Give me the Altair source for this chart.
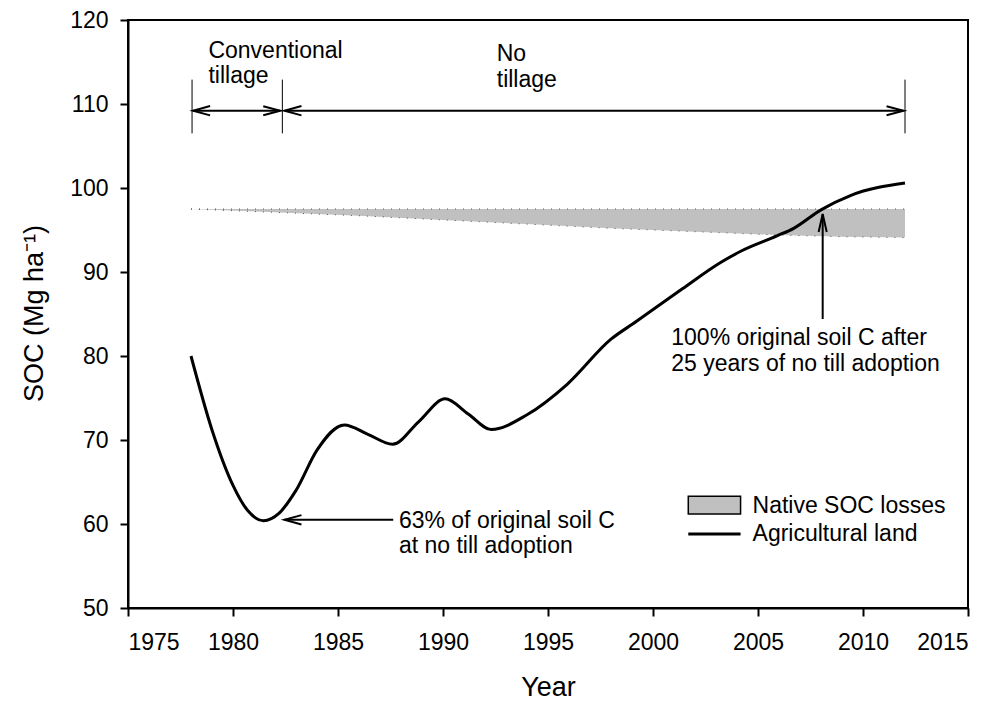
import altair as alt
import pandas as pd

FONT = "Liberation Sans"

# ---- Agricultural land SOC curve ----
years = [1978, 1979, 1980, 1980.7, 1981.45, 1982.2, 1983, 1984, 1985.3, 1986.45,
         1987.6, 1988.85, 1990.1, 1991.2, 1992.3, 1994, 1995.9, 1998, 1999.2,
         2001.4, 2003.2, 2004.2, 2005.9, 2006.7, 2008, 2009.4, 2012]
soc = [80.0, 71.2, 64.6, 61.6, 60.4, 61.3, 64.0, 68.8, 71.8, 70.65,
       69.5, 72.2, 74.9, 73.1, 71.25, 73.0, 76.6, 82.0, 84.1,
       88.0, 91.1, 92.5, 94.3, 95.2, 97.4, 99.1, 100.6]

# ---- Native SOC losses band ----
band_years = [1978, 1982, 1986, 1990, 1994, 1998, 2002, 2006, 2009, 2012]
band_upper = [97.5, 97.5, 97.5, 97.5, 97.5, 97.5, 97.5, 97.5, 97.5, 97.5]
band_lower = [97.5, 97.1, 96.7, 96.2, 95.7, 95.2, 94.8, 94.4, 94.2, 94.1]

# ---- Period markers (top) ----
period_bar_x = [1978.05, 1982.35, 2012.0]
period_bar_low = [106.5, 106.5, 106.5]
period_bar_high = [112.9, 112.9, 112.9]
period_arrow_start = [1978.1, 1982.45]
period_arrow_end = [1982.25, 2011.93]
period_arrow_y = [109.2, 109.2]

period_text = ["Conventional", "tillage", "No", "tillage"]
period_text_x = [1978.83, 1978.83, 1992.56, 1992.56]
period_text_y = [115.45, 112.5, 115.1, 112.05]

# ---- Annotations ----
ann_text = ["63% of original soil C", "at no till adoption",
            "100% original soil C after", "25 years of no till adoption"]
ann_text_x = [1987.9, 1987.9, 2000.87, 2000.87]
ann_text_y = [59.5, 56.5, 81.27, 78.18]

ann63_x = [1987.63]
ann63_x2 = [1982.45]
ann63_y = [60.5]
ann100_x = [2008.08]
ann100_y = [84.4]
ann100_y2 = [96.9]

# ---- Legend ----
leg_rect_x = [2001.68]
leg_rect_x2 = [2004.17]
leg_rect_y = [61.2]
leg_rect_y2 = [63.3]
leg_line_y = [58.8]
leg_text = ["Native SOC losses", "Agricultural land"]
leg_text_x = [2004.74, 2004.74]
leg_text_y = [61.31, 57.94]

xscale = alt.Scale(domain=[1975, 2015], nice=False, zero=False)
yscale = alt.Scale(domain=[50, 120], nice=False, zero=False)
xaxis = alt.Axis(values=list(range(1975, 2016, 5)), format="d", title="Year",
                 tickSize=8, tickWidth=2, domainWidth=2, grid=False,
                 labelFontSize=23, labelPadding=15, titleFontSize=27,
                 titleFontWeight="normal", titleBaseline="alphabetic",
                 titleY=87, titleX=420)
yaxis = alt.Axis(values=list(range(50, 121, 10)), title="SOC (Mg ha⁻¹)",
                 tickSize=8, tickWidth=2, domainWidth=2, grid=False,
                 labelFontSize=23, labelPadding=12, titleFontSize=27,
                 titleFontWeight="normal", titleBaseline="alphabetic",
                 titleX=-86, titleY=293)


def X(f):
    return alt.X(f, type="quantitative", scale=xscale, axis=xaxis)


def Y(f):
    return alt.Y(f, type="quantitative", scale=yscale, axis=yaxis)


curve_df = pd.DataFrame({"x": years, "y": soc})
band_df = pd.DataFrame({"x": band_years, "y": band_lower, "y2": band_upper})
edges_df = pd.DataFrame({
    "x": band_years + band_years,
    "y": band_upper + band_lower,
    "edge": ["upper"] * len(band_years) + ["lower"] * len(band_years),
})
bars_df = pd.DataFrame({"x": period_bar_x, "y": period_bar_low, "y2": period_bar_high})
parrow_df = pd.DataFrame({"x": period_arrow_start, "x2": period_arrow_end, "y": period_arrow_y})
left_heads = pd.DataFrame({"x": period_arrow_start + ann63_x2,
                           "y": period_arrow_y + ann63_y})
right_heads = pd.DataFrame({"x": period_arrow_end, "y": period_arrow_y})
ptext_df = pd.DataFrame({"x": period_text_x, "y": period_text_y, "t": period_text})
atext_df = pd.DataFrame({"x": ann_text_x, "y": ann_text_y, "t": ann_text})
a63_df = pd.DataFrame({"x": ann63_x, "x2": ann63_x2, "y": ann63_y})
a100_df = pd.DataFrame({"x": ann100_x, "y": ann100_y, "y2": ann100_y2})
up_head = pd.DataFrame({"x": ann100_x, "y": ann100_y2})
leg_rect_df = pd.DataFrame({"x": leg_rect_x, "x2": leg_rect_x2, "y": leg_rect_y, "y2": leg_rect_y2})
leg_line_df = pd.DataFrame({"x": leg_rect_x, "x2": leg_rect_x2, "y": leg_line_y})
leg_text_df = pd.DataFrame({"x": leg_text_x, "y": leg_text_y, "t": leg_text})

band = alt.Chart(band_df).mark_area(color="#c0c0c0", opacity=1).encode(
    x=X("x"), y=Y("y"), y2="y2")
edges = alt.Chart(edges_df).mark_line(color="#555555", strokeWidth=1,
                                      strokeDash=[1, 7]).encode(
    x=X("x"), y=Y("y"), detail="edge:N")
curve = alt.Chart(curve_df).mark_line(color="black", strokeWidth=3,
                                      interpolate="monotone").encode(
    x=X("x"), y=Y("y"))
bars = alt.Chart(bars_df).mark_rule(color="black", strokeWidth=1).encode(
    x=X("x"), y=Y("y"), y2="y2")
parrows = alt.Chart(parrow_df).mark_rule(color="black", strokeWidth=2).encode(
    x=X("x"), x2="x2", y=Y("y"))
lheads = alt.Chart(left_heads).mark_point(
    shape="M2,-0.55L0,0L2,0.55", filled=False, size=289, strokeWidth=2,
    color="black", opacity=1).encode(x=X("x"), y=Y("y"))
rheads = alt.Chart(right_heads).mark_point(
    shape="M-2,-0.53L0,0L-2,0.53", filled=False, size=289, strokeWidth=2,
    color="black", opacity=1).encode(x=X("x"), y=Y("y"))
uhead = alt.Chart(up_head).mark_point(
    shape="M-0.45,2L0,0L0.45,2", filled=False, size=324, strokeWidth=2,
    color="black", opacity=1).encode(x=X("x"), y=Y("y"))
ptext = alt.Chart(ptext_df).mark_text(align="left", baseline="alphabetic",
                                      fontSize=23, font=FONT, color="black").encode(
    x=X("x"), y=Y("y"), text="t:N")
atext = alt.Chart(atext_df).mark_text(align="left", baseline="alphabetic",
                                      fontSize=23, font=FONT, color="black").encode(
    x=X("x"), y=Y("y"), text="t:N")
a63 = alt.Chart(a63_df).mark_rule(color="black", strokeWidth=2).encode(
    x=X("x"), x2="x2", y=Y("y"))
a100 = alt.Chart(a100_df).mark_rule(color="black", strokeWidth=2).encode(
    x=X("x"), y=Y("y"), y2="y2")
leg_rect = alt.Chart(leg_rect_df).mark_rect(fill="#c0c0c0", stroke="black",
                                            strokeWidth=1.5).encode(
    x=X("x"), x2="x2", y=Y("y"), y2="y2")
leg_line = alt.Chart(leg_line_df).mark_rule(color="black", strokeWidth=3).encode(
    x=X("x"), x2="x2", y=Y("y"))
leg_text_l = alt.Chart(leg_text_df).mark_text(align="left", baseline="alphabetic",
                                              fontSize=23, font=FONT, color="black").encode(
    x=X("x"), y=Y("y"), text="t:N")

chart = alt.layer(
    band, edges, curve, bars, parrows, lheads, rheads, uhead,
    ptext, atext, a63, a100, leg_rect, leg_line, leg_text_l
).properties(
    width=840, height=588,
    autosize=alt.AutoSizeParams(type="none"),
    padding={"left": 120, "top": 12, "right": 30, "bottom": 93},
).configure(font=FONT, background="white").configure_view(
    stroke="black", strokeWidth=2
).configure_axis(
    domainColor="black", tickColor="black", labelColor="black",
    titleColor="black", labelFont=FONT, titleFont=FONT
)

chart.save("out.html", embed_options={"renderer": "svg", "actions": False})
